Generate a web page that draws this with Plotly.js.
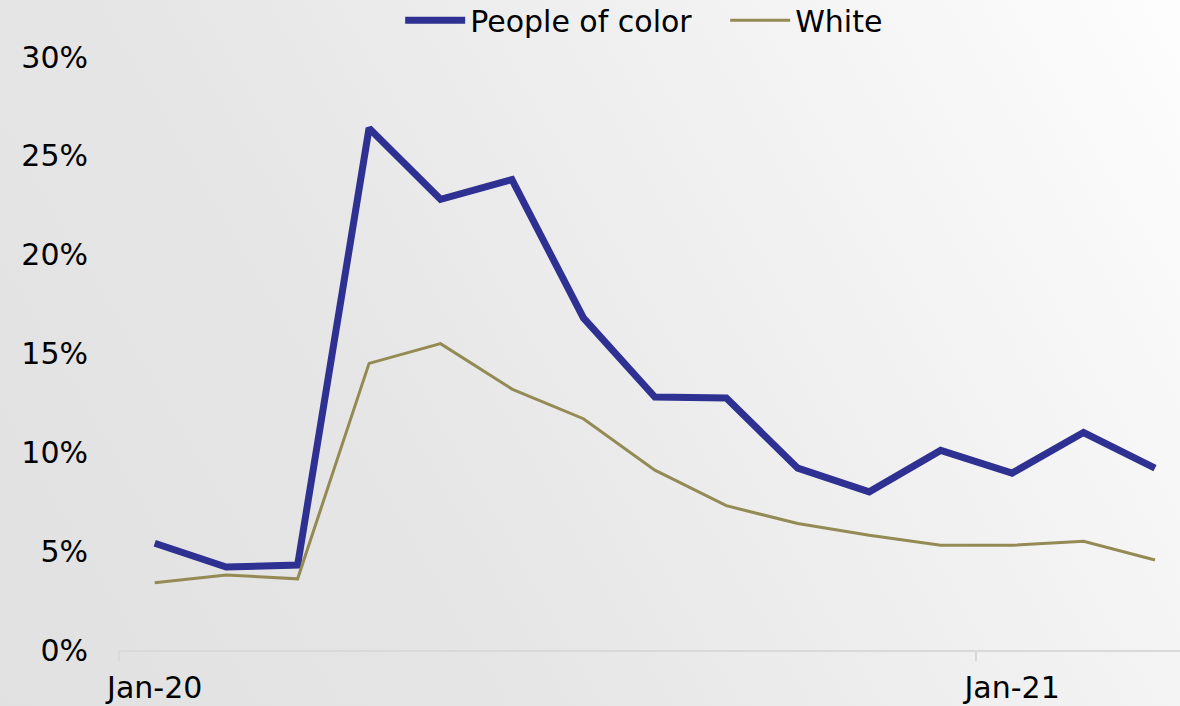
<!DOCTYPE html>
<html>
<head>
<meta charset="utf-8">
<script src="https://cdn.plot.ly/plotly-3.0.1.min.js"></script>
<style>
  html, body { margin: 0; padding: 0; }
  body { width: 1180px; height: 706px; overflow: hidden;
    background: linear-gradient(60deg, #e1e1e1 0%, #e6e6e6 35%, #f2f2f2 70%, #fdfdfd 100%); }
  #chart { width: 1180px; height: 706px; }
</style>
</head>
<body>
<div id="chart"></div>
<script>
const months = ["Jan-20","Feb-20","Mar-20","Apr-20","May-20","Jun-20","Jul-20","Aug-20","Sep-20","Oct-20","Nov-20","Dec-20","Jan-21","Feb-21","Mar-21"];
const peopleOfColor = [5.4, 4.2, 4.3, 26.4, 22.8, 23.8, 16.8, 12.8, 12.75, 9.2, 8.0, 10.1, 8.95, 11.0, 9.2];
const white = [3.4, 3.8, 3.6, 14.5, 15.5, 13.2, 11.7, 9.1, 7.3, 6.4, 5.8, 5.3, 5.3, 5.5, 4.55];
const xLabels = ["Jan-20", "Jan-21"];
const yTicks = [0, 5, 10, 15, 20, 25, 30];

const idx = months.map((m, i) => i);
const labelIdx = xLabels.map(l => months.indexOf(l));
const boundaryIdx = labelIdx.map(i => i - 0.5);
const FONT = "DejaVu Sans, sans-serif";

const traces = [
  { x: idx, y: peopleOfColor, name: "People of color", type: "scatter", mode: "lines",
    line: { color: "#2E3192", width: 7 }, text: months, hovertemplate: "%{text}: %{y:.1f}%<extra></extra>" },
  { x: idx, y: white, name: "White", type: "scatter", mode: "lines",
    line: { color: "#948A54", width: 3 }, text: months, hovertemplate: "%{text}: %{y:.1f}%<extra></extra>" }
];

const xRange = [-0.5, 14.35];
const layout = {
  width: 1180, height: 706,
  paper_bgcolor: "rgba(0,0,0,0)", plot_bgcolor: "rgba(0,0,0,0)",
  margin: { l: 119, r: 0, t: 57, b: 56, autoexpand: false },
  font: { family: FONT, color: "#000", size: 30 },
  showlegend: true,
  legend: { orientation: "h", x: 0.265, xanchor: "left", y: 1.062, yanchor: "middle",
    font: { family: FONT, size: 30, color: "#000" }, bgcolor: "rgba(0,0,0,0)", itemwidth: 60,
    entrywidth: 250, entrywidthmode: "pixels" },
  xaxis: { range: xRange, tickvals: labelIdx, ticktext: xLabels, showgrid: false, zeroline: false,
    showline: true, linecolor: "#d9d9d9", linewidth: 2, ticks: "", ticklabelstandoff: 10,
    tickfont: { family: FONT, size: 30 }, fixedrange: true, automargin: false },
  xaxis2: { range: xRange, overlaying: "x", matches: "x", tickvals: boundaryIdx, ticks: "outside", ticklen: 10,
    tickwidth: 2, tickcolor: "#d9d9d9", showticklabels: false, showgrid: false, zeroline: false, showline: false, automargin: false },
  yaxis: { range: [0, 30], tickvals: yTicks, ticktext: yTicks.map(v => v + "%"), showgrid: false,
    zeroline: false, showline: false, ticks: "", ticklabelstandoff: 30,
    tickfont: { family: FONT, size: 30 }, fixedrange: true, automargin: false }
};

// invisible trace to activate xaxis2
traces.push({ x: [idx[0]], y: [null], xaxis: "x2", showlegend: false, hoverinfo: "skip", type: "scatter", mode: "lines" });

Plotly.newPlot("chart", traces, layout, { displayModeBar: false });
</script>
</body>
</html>
